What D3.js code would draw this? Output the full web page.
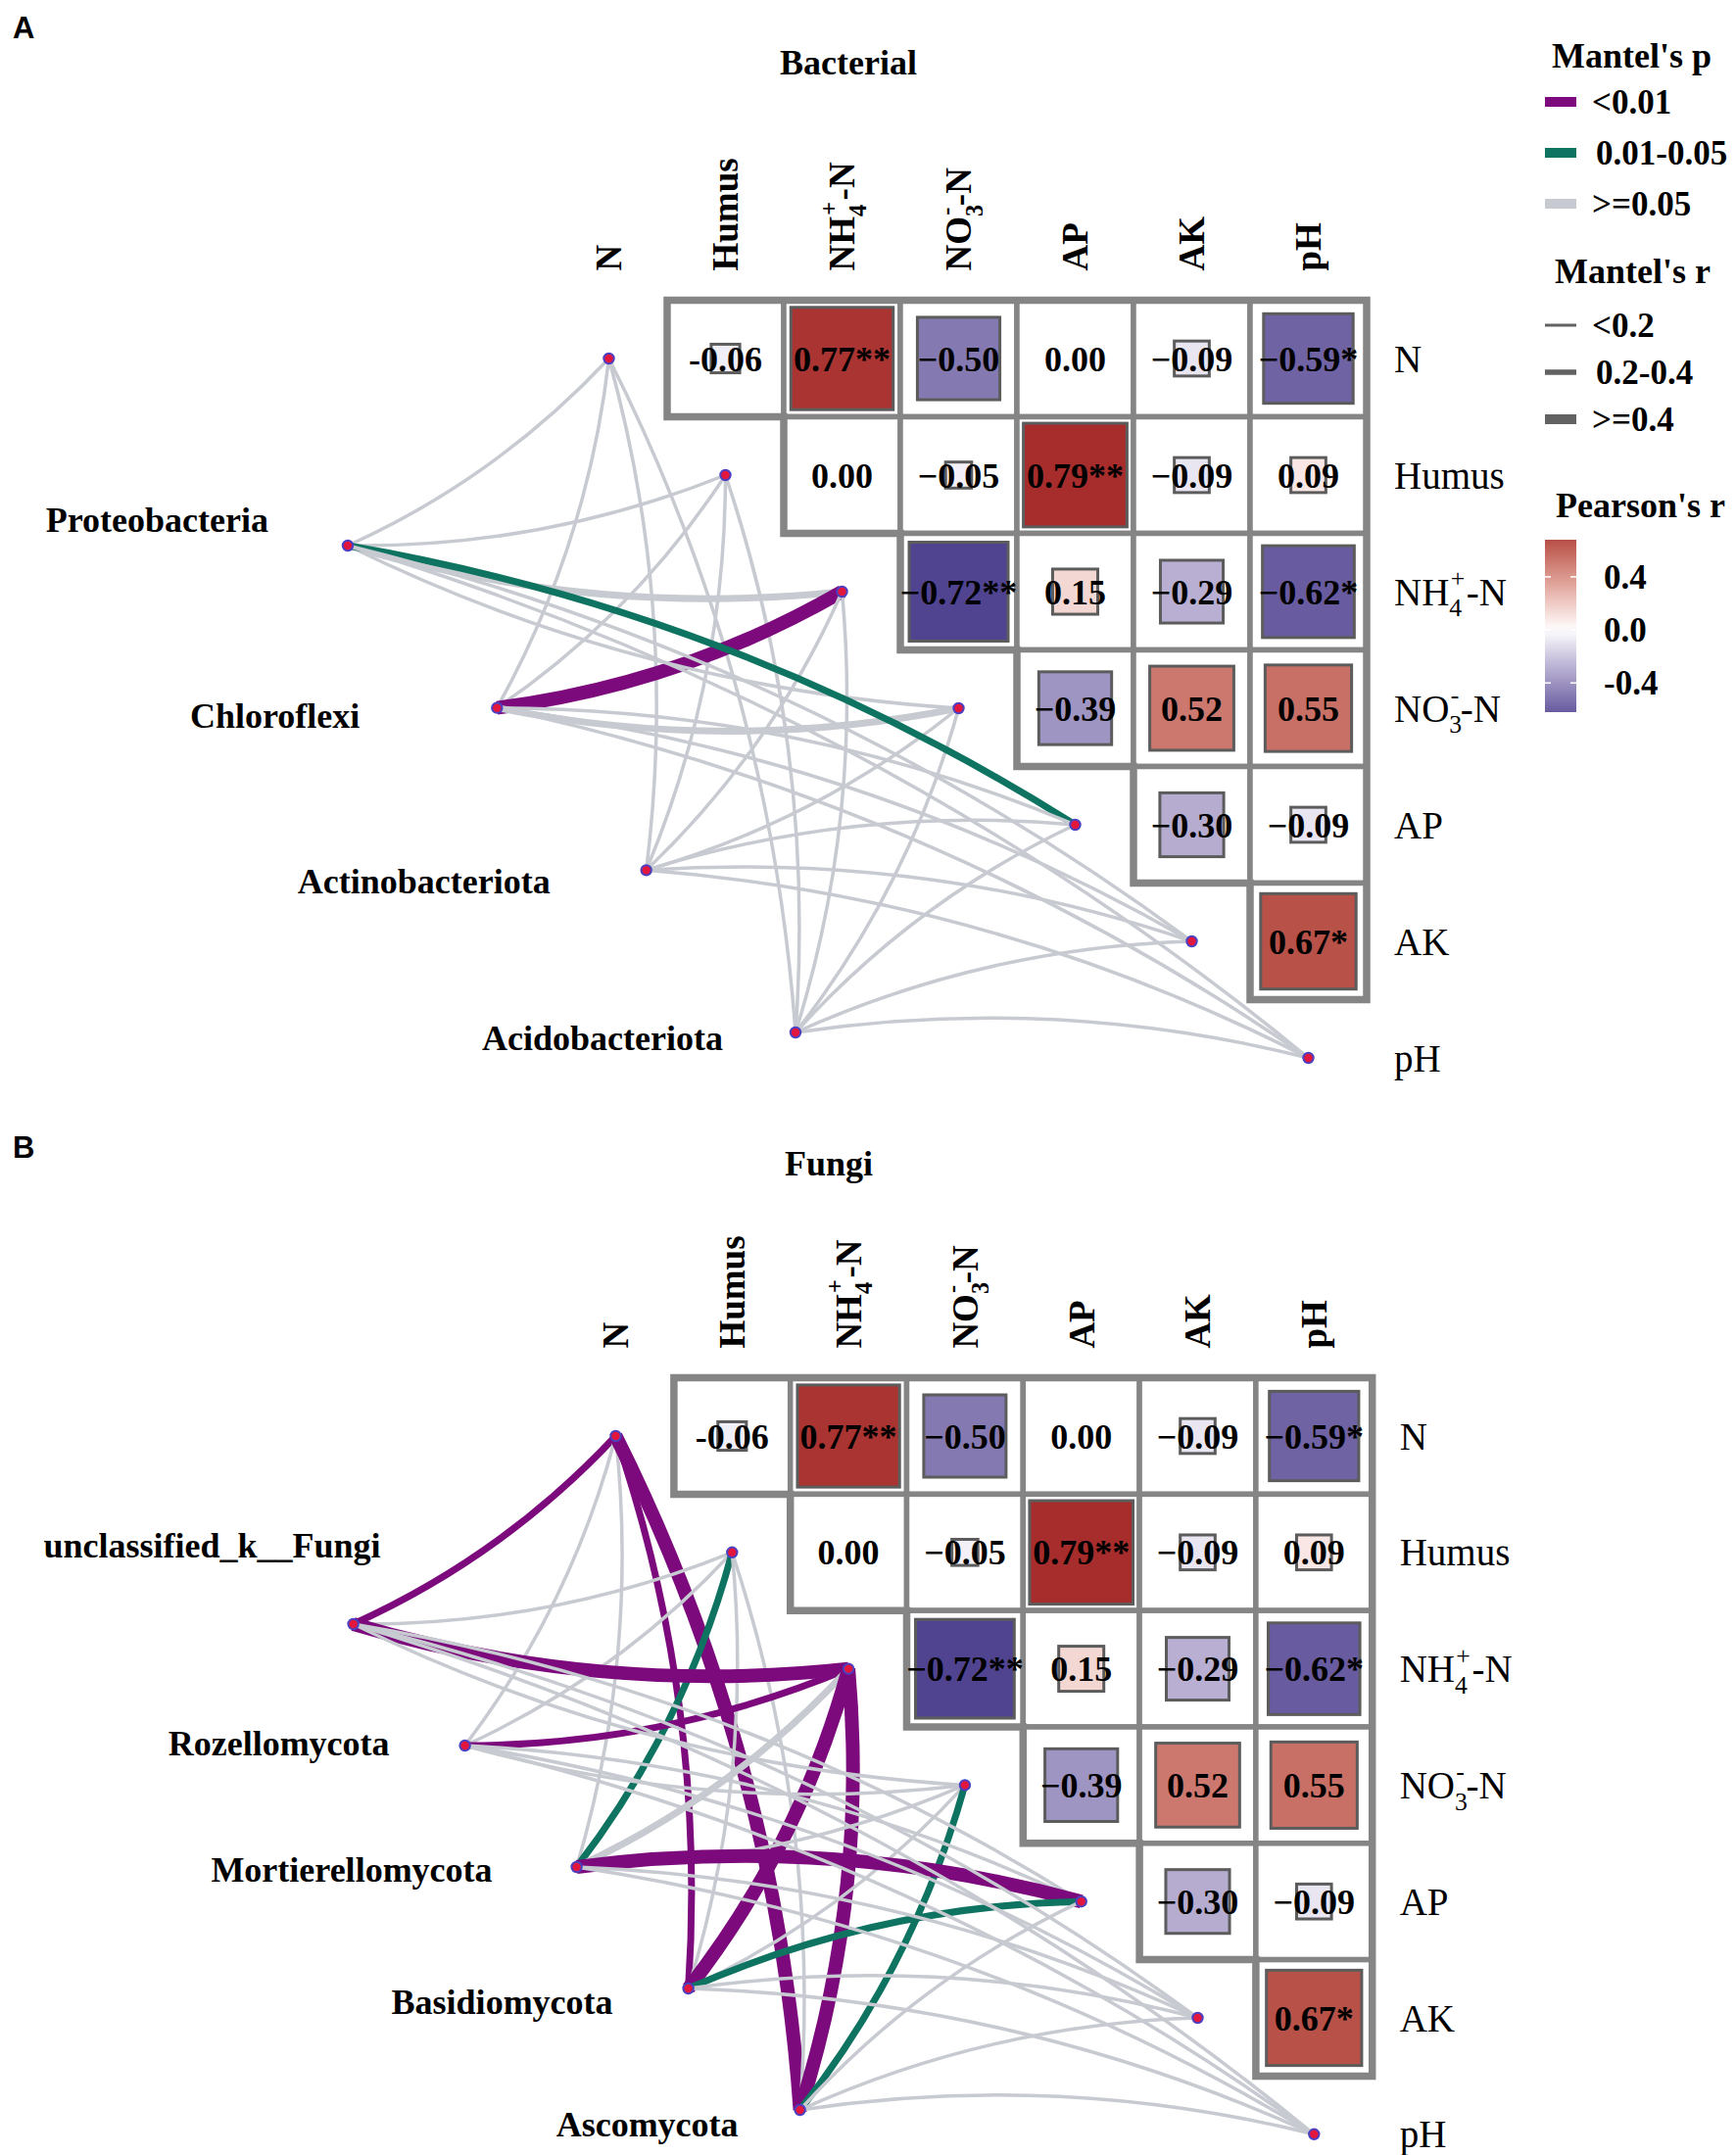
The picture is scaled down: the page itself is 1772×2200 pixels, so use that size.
<!DOCTYPE html>
<html>
<head>
<meta charset="utf-8">
<script src="https://cdn.jsdelivr.net/npm/d3@7"></script>
<style>
  body { margin: 0; background: #fff; }
  text { font-family: "Liberation Serif", "Times New Roman", serif; }
</style>
</head>
<body>
<svg id="chart"></svg>
<script>
const envVars = ["N", "Humus", "NH4", "NO3", "AP", "AK", "pH"];

// Pearson's r between soil variables (upper triangle) and the text shown in the cell
const pearsonPairs = [
  ["N", "Humus", -0.06, "-0.06"],
  ["N", "NH4", 0.77, "0.77**"],
  ["N", "NO3", -0.50, "\u22120.50"],
  ["N", "AP", 0.00, "0.00"],
  ["N", "AK", -0.09, "\u22120.09"],
  ["N", "pH", -0.59, "\u22120.59*"],
  ["Humus", "NH4", 0.00, "0.00"],
  ["Humus", "NO3", -0.05, "\u22120.05"],
  ["Humus", "AP", 0.79, "0.79**"],
  ["Humus", "AK", -0.09, "\u22120.09"],
  ["Humus", "pH", 0.09, "0.09"],
  ["NH4", "NO3", -0.72, "\u22120.72**"],
  ["NH4", "AP", 0.15, "0.15"],
  ["NH4", "AK", -0.29, "\u22120.29"],
  ["NH4", "pH", -0.62, "\u22120.62*"],
  ["NO3", "AP", -0.39, "\u22120.39"],
  ["NO3", "AK", 0.52, "0.52"],
  ["NO3", "pH", 0.55, "0.55"],
  ["AP", "AK", -0.30, "\u22120.30"],
  ["AP", "pH", -0.09, "\u22120.09"],
  ["AK", "pH", 0.67, "0.67*"]
];

// Mantel classes, one row per taxon, columns follow envVars
// p: 0 = <0.01, 1 = 0.01-0.05, 2 = >=0.05 ; r: 0 = <0.2, 1 = 0.2-0.4, 2 = >=0.4
const bacteria = ["Proteobacteria", "Chloroflexi", "Actinobacteriota", "Acidobacteriota"];
const bacteriaP = [
  [2, 2, 2, 2, 1, 2, 2],
  [2, 2, 0, 2, 2, 2, 2],
  [2, 2, 2, 2, 2, 2, 2],
  [2, 2, 2, 2, 2, 2, 2]
];
const bacteriaR = [
  [0, 0, 1, 0, 1, 0, 0],
  [0, 0, 2, 1, 0, 0, 0],
  [0, 0, 0, 0, 0, 0, 0],
  [0, 0, 0, 0, 0, 0, 0]
];

const fungi = ["unclassified_k__Fungi", "Rozellomycota", "Mortierellomycota", "Basidiomycota", "Ascomycota"];
const fungiP = [
  [0, 2, 0, 2, 2, 2, 2],
  [2, 2, 0, 2, 2, 2, 2],
  [2, 1, 2, 2, 0, 2, 2],
  [0, 2, 0, 2, 1, 2, 2],
  [0, 2, 0, 1, 2, 2, 2]
];
const fungiR = [
  [1, 0, 2, 0, 0, 0, 0],
  [0, 0, 1, 0, 0, 0, 0],
  [0, 1, 1, 0, 2, 0, 0],
  [1, 0, 2, 0, 1, 0, 0],
  [2, 0, 2, 1, 0, 0, 0]
];

const pLabels = ["<0.01", "0.01-0.05", ">=0.05"];
const rLabels = ["<0.2", "0.2-0.4", ">=0.4"];
const pearsonTicks = [0.4, 0.0, -0.4];

const W = 1772, H = 2200;
const svg = d3.select("#chart").attr("width", W).attr("height", H);
svg.append("rect").attr("width", W).attr("height", H).attr("fill", "#fff");

const fill = d3.scaleLinear()
  .domain([-0.75, 0, 0.8])
  .range(["#483D8B", "#ffffff", "#A52A2A"])
  .interpolate(d3.interpolateLab);
const pColor = d3.scaleOrdinal().domain([0, 1, 2]).range(["#7C0A7C", "#0E7360", "#C7CAD0"]);
const rWidth = d3.scaleOrdinal().domain([0, 1, 2]).range([3.5, 7, 14]);

const gridColor = "#858585";

// writes an env variable name, with sub/superscripts for the nitrogen forms
function envText(sel, name, size) {
  if (name === "NH4" || name === "NO3") {
    const small = size * 0.66;
    sel.append("tspan").text(name === "NH4" ? "NH" : "NO");
    sel.append("tspan").text(name === "NH4" ? "4" : "3")
      .attr("font-size", small).attr("dy", size * 0.3);
    sel.append("tspan").text(name === "NH4" ? "+" : "-")
      .attr("font-size", small).attr("dx", -small * 0.45).attr("dy", -size * 0.78);
    sel.append("tspan").text("-N").attr("dx", size * 0.04).attr("dy", size * 0.48);
  } else {
    sel.text(name);
  }
}

function drawPanel(cfg) {
  const g = svg.append("g");
  const c = cfg.cell;
  const x = d3.scaleLinear().domain([0, 6]).range([cfg.ox, cfg.ox + 6 * c]);
  const y = d3.scaleLinear().domain([0, 6]).range([cfg.oy, cfg.oy + 6 * c]);
  const idx = d => envVars.indexOf(d);

  // panel tag and title
  g.append("text").attr("x", 13).attr("y", cfg.tagY).attr("dy", "0.35em")
    .style("font-family", "'Liberation Sans', Arial, sans-serif")
    .attr("font-weight", "bold").attr("font-size", 31).text(cfg.tag);
  g.append("text").attr("x", cfg.titleX).attr("y", cfg.titleY).attr("dy", "0.35em")
    .attr("text-anchor", "middle").attr("font-weight", "bold").attr("font-size", 36)
    .text(cfg.title);

  // column labels
  envVars.forEach((v, j) => {
    const t = g.append("text")
      .attr("transform", `translate(${x(j)},${y(0) - c / 2 - 30}) rotate(-90)`)
      .attr("dy", "0.35em").attr("font-weight", "bold").attr("font-size", 37);
    envText(t, v, 37);
  });

  // row labels
  envVars.forEach((v, i) => {
    const t = g.append("text")
      .attr("x", x(6) + c / 2 + 28).attr("y", y(i)).attr("dy", "0.35em")
      .attr("font-size", 39);
    envText(t, v, 39);
  });

  // cells
  const cells = g.append("g");
  cells.selectAll("rect.cell").data(pearsonPairs).join("rect")
    .attr("class", "cell")
    .attr("x", d => x(idx(d[1])) - c / 2).attr("y", d => y(idx(d[0])) - c / 2)
    .attr("width", c).attr("height", c)
    .attr("fill", "#fff").attr("stroke", gridColor).attr("stroke-width", 5.5);

  const h = c / 2;
  const pts = [[x(1) - h, y(0) - h], [x(6) + h, y(0) - h], [x(6) + h, y(5) + h]];
  for (let k = 5; k >= 0; k--) {
    pts.push([x(k + 1) - h, y(k) + h]);
    if (k > 0) pts.push([x(k + 1) - h, y(k - 1) + h]);
  }
  cells.append("path").attr("d", d3.line()(pts) + "Z")
    .attr("fill", "none").attr("stroke", gridColor).attr("stroke-width", 7.5);

  cells.selectAll("rect.sq").data(pearsonPairs.filter(d => d[2] !== 0)).join("rect")
    .attr("class", "sq")
    .attr("x", d => x(idx(d[1])) - Math.sqrt(Math.abs(d[2])) * c / 2)
    .attr("y", d => y(idx(d[0])) - Math.sqrt(Math.abs(d[2])) * c / 2)
    .attr("width", d => Math.sqrt(Math.abs(d[2])) * c)
    .attr("height", d => Math.sqrt(Math.abs(d[2])) * c)
    .attr("fill", d => fill(d[2])).attr("stroke", "#5c5c5c").attr("stroke-width", 3);

  cells.selectAll("text.val").data(pearsonPairs).join("text")
    .attr("class", "val")
    .attr("x", d => x(idx(d[1]))).attr("y", d => y(idx(d[0]))).attr("dy", "0.35em")
    .attr("text-anchor", "middle").attr("font-weight", "bold").attr("font-size", 36)
    .text(d => d[3]);

  // taxon nodes
  const sx = d3.scalePoint().domain(cfg.species).range([cfg.specStart[0], cfg.specEnd[0]]);
  const sy = d3.scalePoint().domain(cfg.species).range([cfg.specStart[1], cfg.specEnd[1]]);

  const links = [];
  envVars.forEach((v, j) => {
    cfg.species.forEach((s, i) => {
      links.push({ s, env: j, p: cfg.pMat[i][j], r: cfg.rMat[i][j] });
    });
  });

  const curve = d => {
    const x0 = sx(d.s), y0 = sy(d.s), x1 = x(d.env), y1 = y(d.env);
    const dx = x1 - x0, dy = y1 - y0;
    const sign = d.env <= 3 ? 1 : -1;
    const cx = (x0 + x1) / 2 - sign * 0.1 * dy;
    const cy = (y0 + y1) / 2 + sign * 0.1 * dx;
    const p = d3.path();
    p.moveTo(x0, y0);
    p.quadraticCurveTo(cx, cy, x1, y1);
    return p.toString();
  };

  g.append("g").selectAll("path").data(links).join("path")
    .attr("d", curve).attr("fill", "none")
    .attr("stroke", d => pColor(d.p)).attr("stroke-width", d => rWidth(d.r));

  const nodes = g.append("g");
  nodes.selectAll("circle.env").data(envVars).join("circle")
    .attr("class", "env")
    .attr("cx", (d, j) => x(j)).attr("cy", (d, j) => y(j)).attr("r", 5.2)
    .attr("fill", "#E3173D").attr("stroke", "#4B3FC2").attr("stroke-width", 2);
  nodes.selectAll("circle.sp").data(cfg.species).join("circle")
    .attr("class", "sp")
    .attr("cx", d => sx(d)).attr("cy", d => sy(d)).attr("r", 5.2)
    .attr("fill", "#E3173D").attr("stroke", "#4B3FC2").attr("stroke-width", 2);

  g.append("g").selectAll("text").data(cfg.species).join("text")
    .attr("x", (d, i) => sx(d) + cfg.labelShift[i][0])
    .attr("y", (d, i) => sy(d) + cfg.labelShift[i][1])
    .attr("dy", "0.35em").attr("text-anchor", "end")
    .attr("font-weight", "bold").attr("font-size", 36)
    .text(d => d);
}

drawPanel({
  tag: "A", tagY: 28, title: "Bacterial", titleX: 866, titleY: 63,
  ox: 621.5, oy: 366, cell: 119,
  species: bacteria, pMat: bacteriaP, rMat: bacteriaR,
  specStart: [355, 557], specEnd: [812, 1054],
  labelShift: [[-81, -27], [-140, 8], [-98, 11], [-74, 5]]
});

drawPanel({
  tag: "B", tagY: 1171, title: "Fungi", titleX: 846, titleY: 1187,
  ox: 628.5, oy: 1466, cell: 118.8,
  species: fungi, pMat: fungiP, rMat: fungiR,
  specStart: [360.6, 1658], specEnd: [816.6, 2154],
  labelShift: [[28, -81], [-77, -3], [-86, 2], [-77, 13], [-63, 14]]
});

// legends
const lg = svg.append("g");
const keyX = 1577, keyW = 32, labX = 1625;
const title = (t, xx, yy) => lg.append("text").attr("x", xx).attr("y", yy).attr("dy", "0.35em")
  .attr("font-weight", "bold").attr("font-size", 36).text(t);
const label = (t, xx, yy) => lg.append("text").attr("x", xx).attr("y", yy).attr("dy", "0.35em")
  .attr("font-weight", "bold").attr("font-size", 35).text(t);

title("Mantel's p", 1584, 56);
const pY = d3.scalePoint().domain(pLabels).range([104, 208]);
pLabels.forEach((t, i) => {
  lg.append("rect").attr("x", keyX).attr("y", pY(t) - 5).attr("width", keyW).attr("height", 10)
    .attr("fill", pColor(i));
  label(t, labX + (i === 1 ? 4 : 0), pY(t));
});

title("Mantel's r", 1587, 276);
const rY = d3.scalePoint().domain(rLabels).range([332, 428]);
rLabels.forEach((t, i) => {
  const hh = [3, 5.5, 10][i];
  lg.append("rect").attr("x", keyX).attr("y", rY(t) - hh / 2).attr("width", keyW).attr("height", hh)
    .attr("fill", "#626262");
  label(t, labX + (i === 1 ? 4 : 0), rY(t));
});

title("Pearson's r", 1588, 515);
const barY = d3.scaleLinear().domain([0.68, -0.62]).range([551, 727]);
const grad = svg.append("defs").append("linearGradient").attr("id", "pgrad")
  .attr("x1", 0).attr("y1", 0).attr("x2", 0).attr("y2", 1);
d3.range(0, 1.0001, 0.05).forEach(t => {
  grad.append("stop").attr("offset", t).attr("stop-color", fill(barY.invert(551 + t * 176)));
});
lg.append("rect").attr("x", keyX).attr("y", 551).attr("width", keyW).attr("height", 176)
  .attr("fill", "url(#pgrad)");
pearsonTicks.forEach(v => {
  lg.append("line").attr("x1", keyX).attr("x2", keyX + 6).attr("y1", barY(v)).attr("y2", barY(v))
    .attr("stroke", "#fff").attr("stroke-width", 1.5);
  lg.append("line").attr("x1", keyX + keyW - 6).attr("x2", keyX + keyW).attr("y1", barY(v)).attr("y2", barY(v))
    .attr("stroke", "#fff").attr("stroke-width", 1.5);
  label(d3.format(".1f")(v).replace("\u2212", "-"), 1637, barY(v));
});
</script>
</body>
</html>
